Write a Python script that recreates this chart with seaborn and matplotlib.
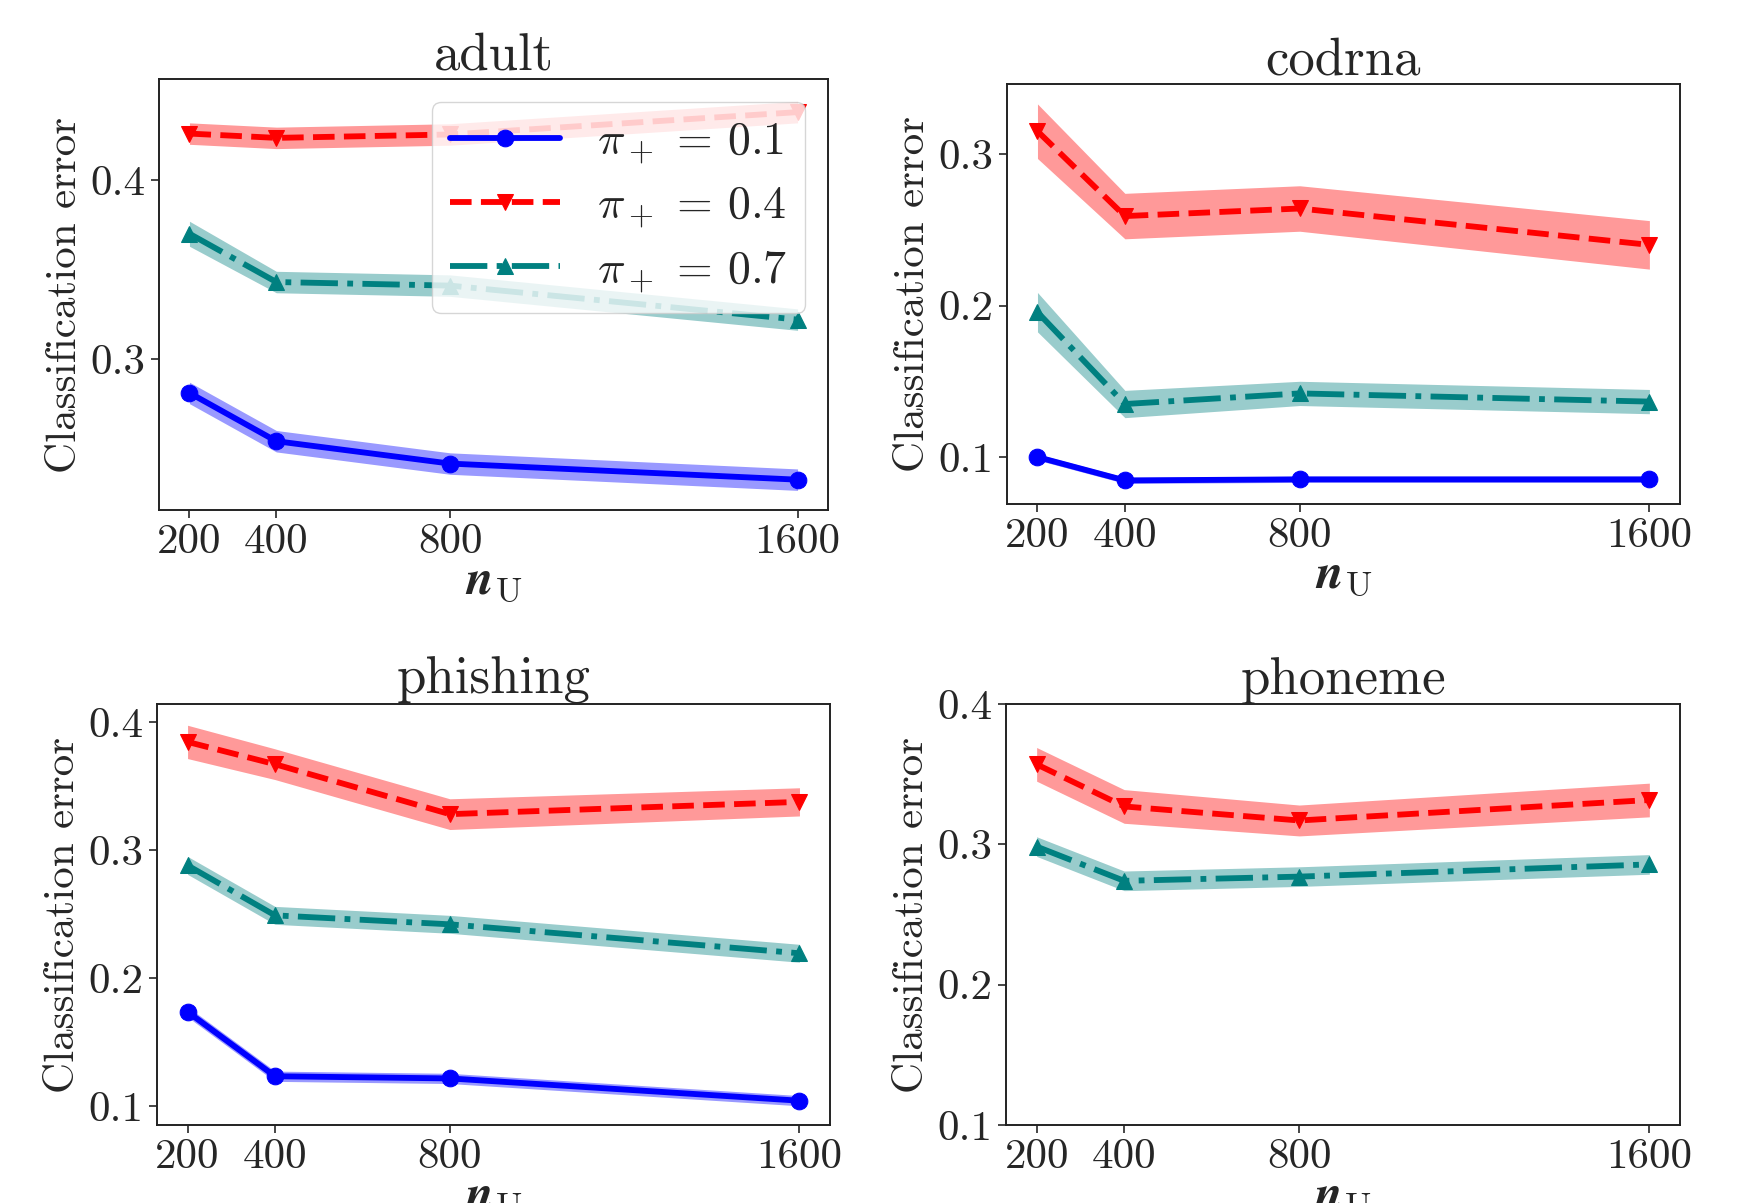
import numpy as np
import seaborn as sns
from matplotlib import pyplot as plt

N_U = [200, 400, 800, 1600]
PRIORS = ["0.1", "0.4", "0.7"]
DATASETS = ["adult", "codrna", "phishing", "phoneme"]

# mean classification error per prior, and half-width of the shaded band
adult_mean = {"0.1": [0.281, 0.254, 0.2415, 0.2325],
              "0.4": [0.426, 0.4236, 0.4255, 0.438],
              "0.7": [0.370, 0.343, 0.341, 0.322]}
adult_std = {"0.1": [0.006, 0.006, 0.006, 0.006],
             "0.4": [0.006, 0.006, 0.006, 0.006],
             "0.7": [0.007, 0.006, 0.006, 0.006]}

codrna_mean = {"0.1": [0.100, 0.0846, 0.0853, 0.0853],
               "0.4": [0.315, 0.259, 0.264, 0.240],
               "0.7": [0.1956, 0.135, 0.142, 0.1366]}
codrna_std = {"0.1": [0.002, 0.002, 0.002, 0.002],
              "0.4": [0.018, 0.015, 0.015, 0.016],
              "0.7": [0.013, 0.009, 0.008, 0.008]}

phishing_mean = {"0.1": [0.1737, 0.1234, 0.1217, 0.1043],
                 "0.4": [0.3844, 0.367, 0.328, 0.3376],
                 "0.7": [0.288, 0.249, 0.242, 0.2194]}
phishing_std = {"0.1": [0.004, 0.004, 0.004, 0.004],
                "0.4": [0.013, 0.012, 0.012, 0.011],
                "0.7": [0.007, 0.007, 0.007, 0.007]}

phoneme_mean = {"0.4": [0.357, 0.327, 0.317, 0.3316],
                "0.7": [0.2984, 0.274, 0.277, 0.2857]}
phoneme_std = {"0.4": [0.012, 0.012, 0.011, 0.012],
               "0.7": [0.007, 0.007, 0.007, 0.007]}

MEANS = [adult_mean, codrna_mean, phishing_mean, phoneme_mean]
STDS = [adult_std, codrna_std, phishing_std, phoneme_std]
YLIMS = [(0.2155, 0.4565), (0.069, 0.346), (0.0853, 0.414), (0.1, 0.4)]
YTICKS = [[0.3, 0.4], [0.1, 0.2, 0.3], [0.1, 0.2, 0.3, 0.4], [0.1, 0.2, 0.3, 0.4]]

STYLE = {"0.1": ("blue", "-", "o"),
         "0.4": ("red", "--", "v"),
         "0.7": ("teal", "-.", "^")}

sns.set_style("ticks")
plt.rcParams["font.family"] = ["cmr10", "DejaVu Serif"]
plt.rcParams["mathtext.fontset"] = "cm"
plt.rcParams["axes.formatter.use_mathtext"] = True
plt.rcParams["axes.unicode_minus"] = False

FS = 31
fig = plt.figure(figsize=(17.42, 12.03), dpi=100)
boxes = [(0.0913, 0.576, 0.384, 0.3583),
         (0.578, 0.581, 0.3864, 0.349),
         (0.0901, 0.0648, 0.3864, 0.35),
         (0.5775, 0.0648, 0.3869, 0.35)]

for i, name in enumerate(DATASETS):
    ax = fig.add_axes(boxes[i])
    for p in PRIORS:
        if p not in MEANS[i]:
            continue
        color, ls, mk = STYLE[p]
        m = np.array(MEANS[i][p])
        s = np.array(STDS[i][p])
        ax.fill_between(N_U, m - s, m + s, color=color, alpha=0.4, linewidth=0)
        sns.lineplot(x=N_U, y=m, ax=ax, color=color, linestyle=ls, marker=mk,
                     markersize=12, markeredgecolor=color, linewidth=4.2,
                     label=rf"$\pi_+ \,=\, {p}$")
    ax.set_xticks(N_U)
    ax.set_xticklabels([str(n) for n in N_U])
    ax.set_yticks(YTICKS[i])
    ax.set_yticklabels([str(t) for t in YTICKS[i]])
    ax.set_xlim(130, 1670)
    ax.set_ylim(*YLIMS[i])
    ax.tick_params(labelsize=FS, length=6, width=1.2, pad=4)
    for sp in ax.spines.values():
        sp.set_linewidth(1.4)
        sp.set_color("#222222")
    ax.set_title(name, fontsize=38, pad=4)
    ax.set_xlabel(r"$\boldsymbol{n}_{\mathrm{U}}$", fontsize=36, labelpad=-2)
    ax.set_ylabel("Classification error", fontsize=FS, labelpad=4)
    if i == 0:
        ax.legend(loc="upper right", fontsize=33, handlelength=2.4,
                  framealpha=0.8, borderaxespad=0.5, labelspacing=0.4)
    else:
        ax.get_legend().remove()

fig.savefig("out.png", dpi=100)
